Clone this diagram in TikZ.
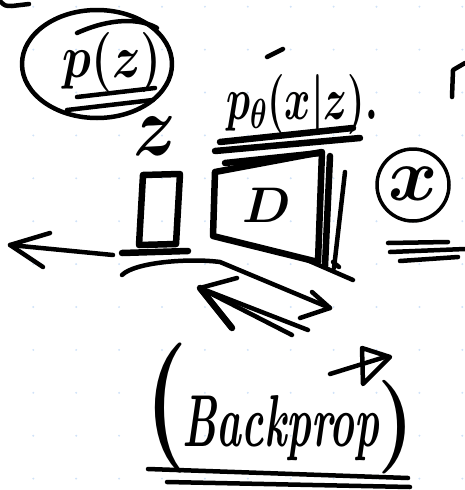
\RequirePackage{fix-cm}
\documentclass[tikz,border=0pt]{standalone}
\usepackage{tikz}
\definecolor{dotblue}{RGB}{208,226,248}

\begin{document}
\begin{tikzpicture}[x=1pt,y=-1pt,
  pen/.style={line width=4.5pt,line cap=round,line join=round},
  heavy/.style={line width=6.5pt,line cap=round,line join=round},
  hand/.style={inner sep=0pt,font=\bfseries\boldmath}]
  \useasboundingbox (0,0) rectangle (465,490);
  \foreach \i in {0,...,10}{\foreach \j in {0,...,11}{\fill[dotblue] (33.3+42.9*\i,6.7+42.9*\j) circle[radius=1.1pt];}}

  % prior
  \draw[pen] (97,64) ellipse[x radius=75pt,y radius=54pt];
  \draw[pen] (77,33) .. controls (110,18) and (140,18) .. (157,28);
  \node[hand] (pz) at (112,62) {\fontsize{48}{48}\selectfont\scalebox{1}[1.25]{$p(z)$}};
  \draw[pen] (77,97) -- (155,88); \draw[pen] (67,110) -- (153,100);
  \draw[pen] (0,1) .. controls (5,6) .. (12,6) -- (29,4);

  % latent z
  \node[hand] (zlab) at (155,136) {\fontsize{72}{72}\selectfont\scalebox{1}[1.2]{$z$}};
  \coordinate (z1) at (143,175); \coordinate (z2) at (180,174);
  \coordinate (z3) at (176,244); \coordinate (z4) at (139,245);
  \draw[heavy] (z1)--(z2)--(z3)--(z4)--cycle;
  \draw[heavy] (122,253) -- (188,251);

  % decoder
  \draw[pen] (267,57) -- (283,49);
  \node[hand] (pxz) at (302,104) {\fontsize{40}{40}\selectfont\scalebox{1}[1.5]{$p_\theta(x|z).$}};
  \draw[heavy] (220,142) -- (353,128); \draw[heavy] (215,151) -- (360,138);
  \draw[heavy] (225,163) -- (320,153);
  \coordinate (d1) at (215,172); \coordinate (d2) at (322,152);
  \coordinate (d3) at (318,262); \coordinate (d4) at (213,236);
  \draw[heavy] (d1)--(d2)--(d3)--(d4)--cycle;
  \draw[heavy] (330,156) -- (325,266); \draw[pen] (345,172) -- (334,268);
  \draw[pen] (307,260) -- (353,280); \draw[pen] (333,262) -- (339,267);
  \node[hand] (dlab) at (267,205) {\fontsize{50}{50}\selectfont $D$};

  % data x
  \draw[pen,line width=3.5pt] (413,185) circle[radius=36pt];
  \node[hand] (xlab) at (413,184) {\fontsize{75}{75}\selectfont $x$};
  \draw[pen] (388,243) -- (448,242); \draw[pen] (390,252) -- (465,249);
  \draw[pen] (400,261) -- (458,257);
  \draw[pen] (452,97) -- (453,70) -- (465,63);

  % arrows
  \coordinate (ltail) at (113,255); \coordinate (ltip) at (10,245);
  \draw[pen] (ltail) -- (ltip); \draw[pen] (50,233) -- (ltip) -- (43,267);
  \coordinate (rtip) at (330,308);
  \draw[pen] (122,275) .. controls (135,262) and (190,258) .. (220,262) -- (rtip);
  \draw[pen] (312,292) -- (rtip) -- (300,318);
  \coordinate (btip) at (200,288);
  \draw[pen] (237,278) -- (btip) -- (292,335); \draw[pen] (btip) -- (308,330);
  \draw[heavy] (btip) -- (232,328);

  % backprop
  \node[hand] (lpar) at (166,408) {\fontsize{100}{100}\selectfont\scalebox{1}[1.3]{(}};
  \node[hand] (rpar) at (396,427) {\fontsize{85}{85}\selectfont\scalebox{1}[1.1]{)}};
  \node[hand] (bp) at (281,428) {\fontsize{42}{42}\selectfont\itshape\scalebox{1}[1.75]{Backprop}};
  \draw[pen] (148,469) -- (408,478); \draw[pen] (167,482) -- (410,487);
  \draw[pen] (330,374) -- (385,357);
  \draw[pen] (362,348) -- (390,357) -- (363,384) -- cycle;
\end{tikzpicture}
\end{document}
